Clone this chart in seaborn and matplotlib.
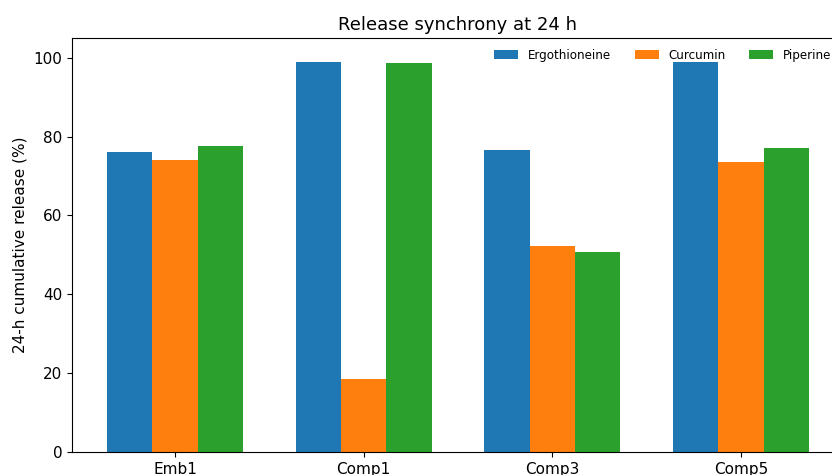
import matplotlib
matplotlib.use("Agg")
import matplotlib.pyplot as plt
import seaborn as sns
import pandas as pd

categories = ["Emb1", "Comp1", "Comp3", "Comp5"]
series = ["Ergothioneine", "Curcumin", "Piperine"]
ergothioneine = [76.2, 99.0, 76.7, 98.8]
curcumin = [74.0, 18.5, 52.2, 73.5]
piperine = [77.7, 98.6, 50.8, 77.0]
colors = ["#1f77b4", "#ff7f0e", "#2ca02c"]

rows = []
for name, vals in zip(series, [ergothioneine, curcumin, piperine]):
    for c, v in zip(categories, vals):
        rows.append({"Formulation": c, "Compound": name, "Release": v})
df = pd.DataFrame(rows)

plt.rcParams.update(plt.rcParamsDefault)
plt.rcParams['font.family'] = ['DejaVu Sans']

fig = plt.figure(figsize=(8.32, 4.75), dpi=100)
ax = fig.add_axes([72/832, 1-452/475, (844-72)/832, (452-38)/475])

sns.barplot(data=df, x="Formulation", y="Release", hue="Compound",
            order=categories, hue_order=series, palette=colors,
            width=0.72, saturation=1, errorbar=None, ax=ax, edgecolor="none")

ax.set_xlim(-0.546, 3.546)
ax.set_ylim(0, 105)
ax.set_xlabel("")
ax.set_ylabel("24-h cumulative release (%)", fontsize=11)
ax.set_title("Release synchrony at 24 h", fontsize=13)
ax.tick_params(labelsize=11)
ax.legend(loc="upper right", bbox_to_anchor=(1 - 2/772, 1), ncol=3,
          frameon=False, fontsize=8.6)

fig.savefig("out.png", dpi=100)
